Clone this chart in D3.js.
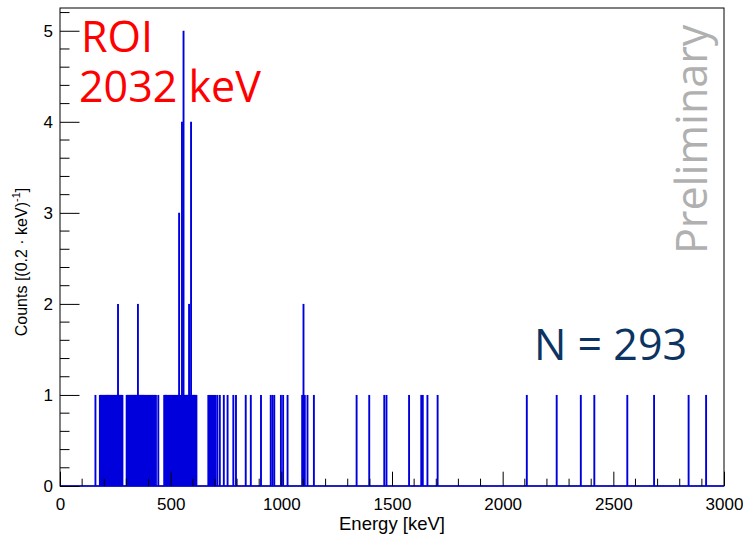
<!DOCTYPE html>
<html><head><meta charset="utf-8">
<script src="https://cdn.jsdelivr.net/npm/d3@7"></script>
<style>body{margin:0;background:#fff}svg{display:block}</style>
</head><body>
<svg id="c" width="743" height="534"></svg>
<script>
// Event energies (keV); repeated values = several events in the same 0.2 keV bin
const eventsLow = [160,
  180,182,183,185,187,189,190,192,194,196,198,199,201,203,205,207,208,210,212,214,216,217,219,221,223,225,226,228,230,232,
  234,235,237,239,241,243,244,246,248,250,252,253,255,257,259,261,262,262,264,266,268,270,271,273,275,277,279,280,282];
const eventsMid = [301,303,304,306,308,310,312,313,315,317,319,321,322,324,326,328,330,331,333,335,337,339,340,342,344,346,348,
  349,351,352,352,354,356,358,360,362,363,365,367,369,371,373,374,376,378,380,382,384,385,387,389,391,393,395,396,398,400,
  402,404,406,407,409,411,413,415,417,418,420,422,424,426,428,429,431,433,
  444];
const eventsPeak = [471,473,475,477,478,480,482,484,486,488,489,491,493,495,497,499,500,502,504,506,508,510,511,513,515,517,
  519,521,522,524,526,528,530,532,533,535,537,538,538,538,540,542,544,546,548,549,551,551,551,551,553,555,557,
  558,558,558,558,558,560,562,564,566,568,570,571,573,575,577,579,581,583,583,585,587,589,591,592,592,592,592,
  594,596,598,600,602,604,605,607,609,611,613,615,616];
const eventsHigh = [670,673,676,679,682,685,688,691,694,697,700,703,711,722,740,757,783,795,839,862,908,952,960,968,998,1008,1028,
  1094,1100,1100,1106,1118,1147,1340,1397,1465,1475,1577,1632,1639,1660,1706,
  2109,2244,2353,2414,2563,2684,2840,2919];
const binWidth = 0.2;
const xTicks = [0,500,1000,1500,2000,2500,3000];
const yTicks = [0,1,2,3,4,5];
const labels = {roi1:"ROI", roi2:"2032 keV", n:"N = 293", prelim:"Preliminary", xTitle:"Energy [keV]"};

const svg = d3.select("#c");
const L=60,R=724,T=8,B=486;
const x = d3.scaleLinear().domain([0,3000]).range([L,R]);
const y = d3.scaleLinear().domain([0,5.25]).range([B,T]);

// frame
svg.append("rect").attr("x",L).attr("y",T).attr("width",R-L).attr("height",B-T)
  .attr("fill","none").attr("stroke","#000").attr("stroke-width",1);

// histogram: one vertical line per filled 0.2 keV bin, plus the zero line
const all = [...eventsLow,...eventsMid,...eventsPeak,...eventsHigh];
const bins = d3.rollups(all, v=>v.length, e=>Math.round(e/binWidth)).sort((a,b)=>a[0]-b[0]);
const blue = "#0000dd";
svg.append("line").attr("x1",x(0)).attr("x2",x(3000)).attr("y1",y(0)).attr("y2",y(0))
  .attr("stroke",blue).attr("stroke-width",1.5);
svg.append("g").selectAll("line").data(bins).join("line")
  .attr("x1",d=>x((d[0]+0.5)*binWidth)).attr("x2",d=>x((d[0]+0.5)*binWidth))
  .attr("y1",y(0)).attr("y2",d=>y(d[1]))
  .attr("stroke",blue).attr("stroke-width",1.9);

const axFont = "'Liberation Sans', Arial, Helvetica, sans-serif";
// y axis
const gy = svg.append("g").attr("transform",`translate(${L},0)`);
gy.call(d3.axisLeft(y).tickValues(yTicks).tickSizeInner(-19.5).tickSizeOuter(0).tickPadding(7).tickFormat(d3.format("d")));
const yMinor = d3.range(0,5.25,0.2).map(v=>+v.toFixed(1)).filter(v=>!yTicks.includes(v));
gy.call(g=>g.selectAll(".minor").data(yMinor).join("line").attr("class","minor")
  .attr("x1",0).attr("x2",9.5).attr("y1",d=>y(d)).attr("y2",d=>y(d)).attr("stroke","#000"));
// x axis
const gx = svg.append("g").attr("transform",`translate(0,${B})`);
gx.call(d3.axisBottom(x).tickValues(xTicks).tickSizeInner(-14.3).tickSizeOuter(0).tickPadding(11.5).tickFormat(d3.format("d")));
const xMinor = d3.range(0,3001,100).filter(v=>!xTicks.includes(v));
gx.call(g=>g.selectAll(".minor").data(xMinor).join("line").attr("class","minor")
  .attr("y1",0).attr("y2",-7.3).attr("x1",d=>x(d)).attr("x2",d=>x(d)).attr("stroke","#000"));
svg.selectAll(".domain").remove();
svg.selectAll(".tick text").attr("font-family",axFont).attr("font-size",17).attr("fill","#000");
svg.selectAll(".tick line").attr("stroke","#000");

// axis titles
svg.append("text").attr("x",(L+R)/2).attr("y",530).attr("text-anchor","middle")
  .attr("font-family",axFont).attr("font-size",18.5).text(labels.xTitle);
const yt = svg.append("text").attr("transform",`translate(27,262) rotate(-90)`).attr("text-anchor","middle")
  .attr("font-family",axFont).attr("font-size",16);
yt.append("tspan").text("Counts [(0.2 · keV)");
yt.append("tspan").attr("font-size",11).attr("dy",-7).text("-1");
yt.append("tspan").attr("dy",7).text("]");

// annotations
const lab = "'Open Sans', 'Noto Sans', sans-serif";
const roi = svg.append("text").attr("font-family",lab).attr("font-size",43).attr("fill","#ff0000");
roi.append("tspan").attr("x",81).attr("y",52).text(labels.roi1);
roi.append("tspan").attr("x",79).attr("y",102).text(labels.roi2);
svg.append("text").attr("x",534).attr("y",360).attr("font-family",lab).attr("font-size",43).attr("fill","#0c3462").text(labels.n);
svg.append("text").attr("transform","translate(707,254) rotate(-90)").attr("font-family",lab).attr("font-size",43).attr("fill","#b0b0b0").text(labels.prelim);
</script>
</body></html>
